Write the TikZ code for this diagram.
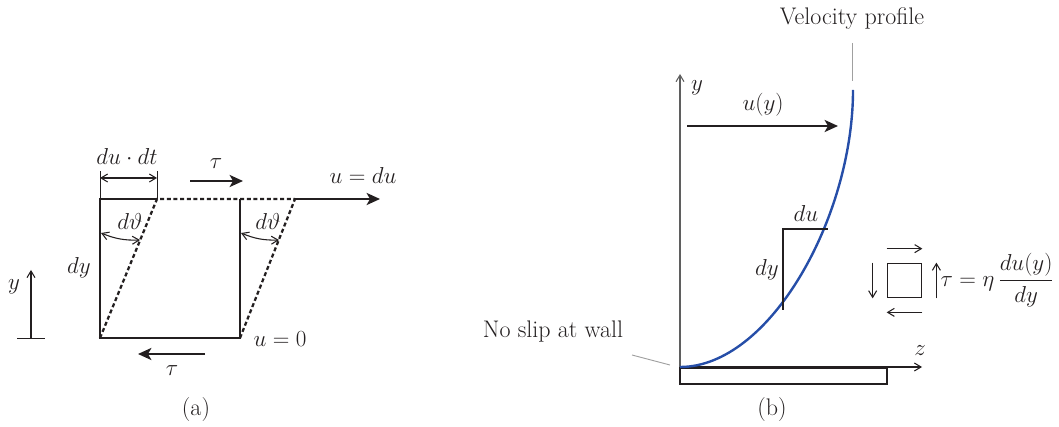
\documentclass[tikz,border=0pt]{standalone}
\usepackage{amsmath}
\usepackage{tikz}
\usetikzlibrary{
  arrows.meta,
  positioning,
  calc
}
\definecolor{inkblack}{RGB}{35,31,32}
\definecolor{profileblue}{RGB}{38,78,168}
\definecolor{axisgray}{RGB}{95,95,95}
\definecolor{leadergray}{RGB}{160,160,160}

\begin{document}
\begin{tikzpicture}[x=0.75pt, y=-0.75pt, color=inkblack,
  every node/.style={font=\fontsize{16}{19}\selectfont, inner sep=1pt},
  wordlabel/.style={font=\fontsize{18}{21}\selectfont},
  thickedge/.style={line width=2.1pt},
  shearline/.style={line width=1.7pt, dash pattern=on 3pt off 2pt},
  bigarrow/.style={line width=2.1pt, -{Stealth[length=10pt, width=9pt, inset=2.5pt]}},
  thinarrow/.style={line width=0.8pt, -{Straight Barb[length=5pt, width=6pt]}},
  dimarrow/.style={line width=0.8pt, {Straight Barb[length=5pt, width=6pt]}-{Straight Barb[length=5pt, width=6pt]}},
  leader/.style={line width=0.7pt, draw=leadergray}
]
\useasboundingbox (0,0) rectangle (1059,427);

% (a) fluid element under shear
\coordinate (sw) at (100,338);
\coordinate (se) at (240,338);
\coordinate (nw) at (100,199);
\coordinate (ne) at (240,199);
\coordinate (nwshift) at (157,199);
\coordinate (neshift) at (295,199);
\coordinate (uend) at (380,199);

\draw[thickedge] (nwshift) -- (nw) -- (sw) -- (se) -- (ne);
\draw[shearline] (sw) -- (nwshift) -- (neshift);
\draw[shearline] (se) -- (neshift);
\draw[bigarrow] (neshift) -- (uend);

\draw[line width=0.7pt] (nw) -- ++(0,-28) coordinate (dimleft);
\draw[line width=0.7pt] (nwshift) -- ++(0,-28) coordinate (dimright);
\draw[dimarrow] ($(dimleft)+(0,7)$) -- ($(dimright)+(0,7)$);
\node (dudt) at (127,157) {$du\cdot dt$};

\coordinate (arcla) at (101,233);
\coordinate (arclb) at (140,240);
\coordinate (arcra) at (241,233);
\coordinate (arcrb) at (279,240);
\draw[dimarrow] (arcla) to[bend right=12] (arclb);
\draw[dimarrow] (arcra) to[bend right=12] (arcrb);
\node (dthl) at (130,222) {$d\vartheta$};
\node (dthr) at (268,222) {$d\vartheta$};

\coordinate (tautopa) at (190,181);
\coordinate (tautopb) at (243,181);
\draw[bigarrow] (tautopa) -- (tautopb);
\node (tautop) at (216,164) {$\tau$};
\coordinate (taubota) at (205,354);
\coordinate (taubotb) at (138,354);
\draw[bigarrow] (taubota) -- (taubotb);
\node (taubot) at (172,371) {$\tau$};

\node (udu) at (363,176) {$u=du$};
\node (uzero) at (280,339) {$u=0$};
\node (dya) at (79,268) {$dy$};

\coordinate (ybase) at (31,338);
\coordinate (ytip) at (31,270);
\draw[line width=0.7pt] (17,338) -- (45,338);
\draw[thinarrow] (ybase) -- (ytip);
\node (ya) at (14,287) {$y$};

\node[wordlabel] (capa) at (196,410) {(a)};

% (b) velocity profile at a wall
\coordinate (origin) at (680,367);
\coordinate (ytop) at (680,74);
\coordinate (zend) at (922,367);
\coordinate (ptop) at (853,90);
\draw[thinarrow, draw=axisgray] (origin) -- (ytop);
\draw[thinarrow] (origin) -- (zend);
\draw[line width=2.1pt, fill=white] (680,368) rectangle (887,384);
\node (yb) at (697,88) {$y$};
\node (zb) at (920,351) {$z$};

\draw[profileblue, line width=1.8pt] (origin) .. controls (770,367) and (853,217) .. (ptop);

\coordinate (uya) at (687,126);
\coordinate (uyb) at (838,126);
\draw[bigarrow] (uya) -- (uyb);
\node (uy) at (763,105) {$u(y)$};

\coordinate (slopelow) at (783,310);
\coordinate (slopecorner) at (783,229);
\coordinate (slopehigh) at (828,229);
\draw[line width=0.8pt] (slopelow) -- (slopecorner) -- (slopehigh);
\node (dub) at (806,214) {$du$};
\node (dyb) at (767,270) {$dy$};

\node[wordlabel] (velprof) at (852,19) {Velocity profile};
\draw[leader] (852,43) -- (852,81);
\node[wordlabel] (noslip) at (553,332) {No slip at wall};
\draw[leader] (632,355) -- (670,365);

\node[draw, line width=0.8pt, minimum size=26pt, inner sep=0pt] (elem) at (904.5,280.5) {};
\draw[thinarrow] ($(elem.north west)+(0,-14)$) -- ($(elem.north east)+(0,-14)$);
\draw[thinarrow] ($(elem.south east)+(0,14)$) -- ($(elem.south west)+(0,14)$);
\draw[thinarrow] ($(elem.north west)+(-14,0)$) -- ($(elem.south west)+(-14,0)$);
\draw[thinarrow] ($(elem.south east)+(14,0)$) -- ($(elem.north east)+(14,0)$);
\node[anchor=west] (shear) at (939,280) {$\tau=\eta\,\dfrac{du(y)}{dy}$};

\node[wordlabel] (capb) at (772,410) {(b)};
\end{tikzpicture}
\end{document}
